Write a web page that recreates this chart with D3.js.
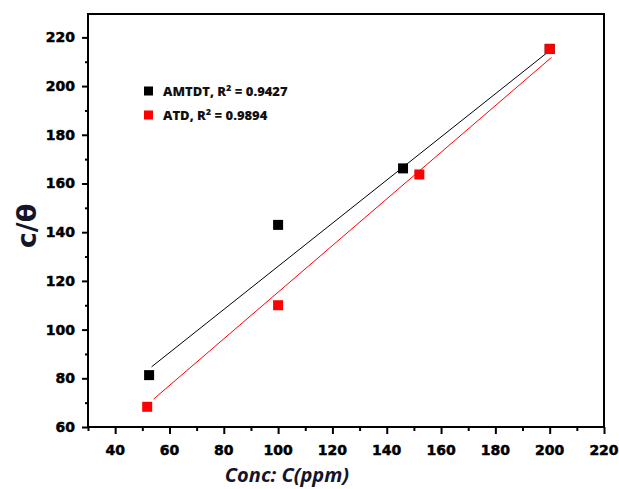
<!DOCTYPE html>
<html>
<head>
<meta charset="utf-8">
<script src="https://cdn.jsdelivr.net/npm/d3@7"></script>
<style>
  body { margin: 0; background: #fff; }
  .tick-label { font-family: "DejaVu Sans", sans-serif; font-weight: bold; font-size: 14px; fill: #000; stroke: #000; stroke-width: 0.5px; }
  .legend-text { font-family: "Open Sans", sans-serif; font-weight: 800; font-size: 13px; fill: #111; }
</style>
</head>
<body>
<svg class="chart" width="619" height="489"></svg>
<script>
// data
let seriesNames = ["AMTDT", "ATD"];
let seriesR2 = ["0.9427", "0.9894"];
let seriesColors = ["#000000", "#ff0000"];
let amtdtX = [52.5, 100, 146, 200];
let amtdtY = [81.3, 143, 166.2, 215.3];
let atdX = [51.8, 100, 152, 200];
let atdY = [68.3, 110, 163.7, 215.2];
// fitted lines (end points as drawn)
let amtdtFitX = [53.4, 199.5];
let amtdtFitY = [84.7, 214.1];
let atdFitX = [54.2, 200.7];
let atdFitY = [71.5, 211.8];
let xTicks = [40, 60, 80, 100, 120, 140, 160, 180, 200, 220];
let yTicks = [60, 80, 100, 120, 140, 160, 180, 200, 220];
let xMinor = [30, 50, 70, 90, 110, 130, 150, 170, 190, 210];
let yMinor = [70, 90, 110, 130, 150, 170, 190, 210];

let svg = d3.select(".chart");
let margin = { left: 88, right: 604, top: 14, bottom: 427 };

let x = d3.scaleLinear().domain([30, 220]).range([margin.left, margin.right]);
let y = d3.scaleLinear().domain([60, 229.6]).range([margin.bottom, margin.top]);

// frame
svg.append("rect")
  .attr("x", margin.left).attr("y", margin.top)
  .attr("width", margin.right - margin.left).attr("height", margin.bottom - margin.top)
  .style("fill", "none").style("stroke", "#000").style("stroke-width", 2);

// x axis
let xAxis = svg.append("g").attr("transform", translate(0, margin.bottom));
xAxis.append("g").call(d3.axisBottom(x).tickValues(xMinor).tickSize(4).tickFormat(""));
xAxis.append("g").call(d3.axisBottom(x).tickValues(xTicks).tickSize(7).tickFormat(""));
xAxis.selectAll(".domain").remove();
xAxis.selectAll("line").style("stroke", "#000").style("stroke-width", 2);
svg.selectAll("xlab")
  .data(xTicks).enter()
  .append("text")
  .attr("class", "tick-label")
  .attr("x", d => x(d))
  .attr("y", 455)
  .attr("text-anchor", "middle")
  .text(d => d);

// y axis
let yAxis = svg.append("g").attr("transform", translate(margin.left, 0));
yAxis.append("g").call(d3.axisLeft(y).tickValues(yMinor).tickSize(3).tickFormat(""));
yAxis.append("g").call(d3.axisLeft(y).tickValues(yTicks).tickSize(6).tickFormat(""));
yAxis.selectAll(".domain").remove();
yAxis.selectAll("line").style("stroke", "#000").style("stroke-width", 2);
svg.selectAll("ylab")
  .data(yTicks).enter()
  .append("text")
  .attr("class", "tick-label")
  .attr("x", 75)
  .attr("y", d => y(d) + 5)
  .attr("text-anchor", "end")
  .text(d => d);

// axis titles
svg.append("text")
  .attr("transform", "translate(36,226) rotate(-90)")
  .attr("text-anchor", "middle")
  .style("font-family", "'DejaVu Sans', sans-serif")
  .style("font-weight", "bold")
  .style("font-size", "27px")
  .style("fill", "#14142a")
  .text("c/θ");

svg.append("text")
  .attr("x", 287)
  .attr("y", 482)
  .attr("text-anchor", "middle")
  .style("font-family", "'Open Sans', sans-serif")
  .style("font-weight", 700)
  .style("font-style", "italic")
  .style("font-size", "20px")
  .style("fill", "#14142a")
  .text("Conc: C(ppm)");

// fit lines
let line = d3.line().x(d => x(d[0])).y(d => y(d[1]));
let fits = [
  d3.zip(amtdtFitX, amtdtFitY),
  d3.zip(atdFitX, atdFitY)
];
svg.selectAll("fitLine")
  .data(fits).enter()
  .append("path")
  .attr("d", line)
  .style("fill", "none")
  .style("stroke", (d, i) => seriesColors[i])
  .style("stroke-width", 1);

// points
let series = [
  d3.zip(amtdtX, amtdtY),
  d3.zip(atdX, atdY)
];
let sz = 10;
series.forEach(function(pts, i) {
  svg.selectAll("pt" + i)
    .data(pts).enter()
    .append("rect")
    .attr("x", d => x(d[0]) - sz / 2)
    .attr("y", d => y(d[1]) - sz / 2)
    .attr("width", sz)
    .attr("height", sz)
    .style("fill", seriesColors[i]);
});

// legend
seriesNames.forEach(function(name, i) {
  let ly = 91 + i * 24;
  svg.append("rect")
    .attr("x", 144).attr("y", ly - 4.5)
    .attr("width", 9).attr("height", 9)
    .style("fill", seriesColors[i]);
  let t = svg.append("text")
    .attr("class", "legend-text")
    .attr("x", 163)
    .attr("y", ly + 5);
  t.append("tspan").text(name + ", R");
  t.append("tspan").attr("dy", -5).style("font-size", "9px").text("2");
  t.append("tspan").attr("dy", 5).text(" = " + seriesR2[i]);
});

function translate(x, y) {
  return "translate(" + x + "," + y + ")";
}
</script>
</body>
</html>
